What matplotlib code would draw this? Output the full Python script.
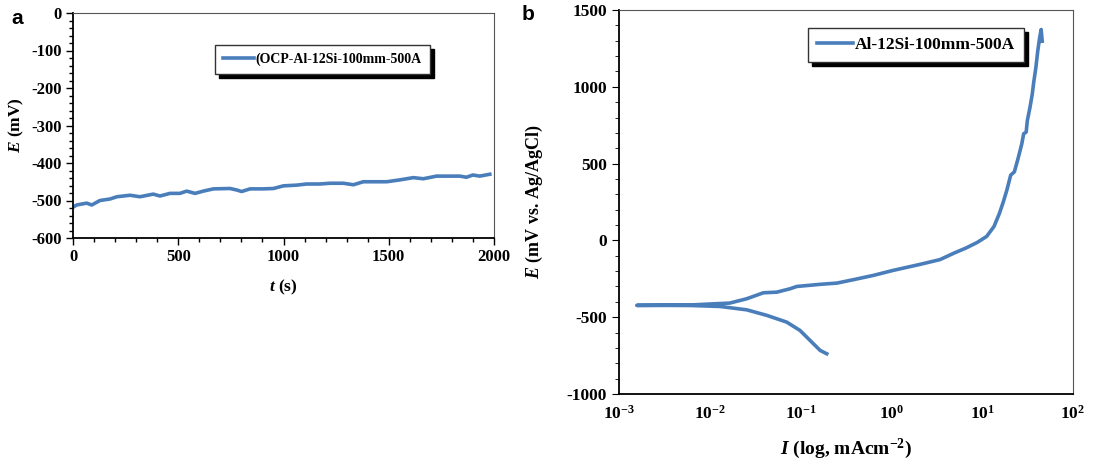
import numpy as np
import matplotlib
matplotlib.use("Agg")
from matplotlib import pyplot as plt
from matplotlib.ticker import MultipleLocator, LogLocator, NullLocator

plt.rcParams['font.family'] = ['Liberation Serif', 'DejaVu Serif']
plt.rcParams['font.weight'] = 'bold'
plt.rcParams['axes.labelweight'] = 'bold'
plt.rcParams['mathtext.fontset'] = 'custom'
plt.rcParams['mathtext.rm'] = 'Liberation Serif:bold'
plt.rcParams['mathtext.bf'] = 'Liberation Serif:bold'
plt.rcParams['mathtext.it'] = 'Liberation Serif:bold:italic'
plt.rcParams['axes.unicode_minus'] = False

# (a) open circuit potential vs time
ocp_t = [0, 17, 65, 89, 128, 176, 208, 271, 318, 381, 413, 461, 508, 540, 580,
         619, 667, 746, 778, 801, 841, 904, 952, 999, 1063, 1110, 1173, 1221,
         1284, 1332, 1379, 1443, 1490, 1553, 1617, 1664, 1727, 1790, 1838, 1869,
         1900, 1932, 1980]
ocp_E = [-518, -512, -507, -512, -500, -496, -490, -486, -490, -483, -488, -481,
         -481, -475, -481, -475, -469, -468, -472, -476, -469, -469, -468, -461,
         -459, -456, -456, -454, -454, -458, -450, -450, -450, -445, -439, -442,
         -435, -435, -435, -438, -432, -435, -430]

# (b) potentiodynamic polarization, cathodic end -> Ecorr -> anodic end
pol_I = [0.194, 0.164, 0.127, 0.0984, 0.0703, 0.0424, 0.0255, 0.0129, 0.0063,
         0.0032, 0.00157,
         0.0032, 0.0063, 0.0119, 0.0166, 0.0255, 0.0389, 0.0546, 0.0764, 0.0906,
         0.164, 0.251, 0.380, 0.631, 1.05, 2.07, 3.43, 5.01, 6.61, 8.83, 11.2,
         13.5, 15.5, 17.1, 18.7, 20.6, 22.6, 24.8, 27.3, 28.6, 30.5, 31.4, 33.6,
         35.6, 36.9, 39.0, 40.9, 42.9, 44.6, 45.8]
pol_E = [-738, -716, -651, -586, -532, -488, -452, -430, -424, -423, -423,
         -422, -420, -412, -408, -380, -341, -337, -315, -300,
         -286, -278, -256, -228, -195, -156, -125, -80, -50, -13, 26,
         91, 177, 252, 328, 425, 446, 532, 629, 694, 705, 780, 866,
         953, 1028, 1125, 1233, 1319, 1373, 1297]

blue = '#4a7ebb'

fig = plt.figure(figsize=(11.03, 4.67), dpi=100)
ax1 = fig.add_axes([73 / 1103, 1 - 238 / 467, 421 / 1103, 225 / 467])
ax2 = fig.add_axes([619 / 1103, 1 - 394 / 467, 454 / 1103, 384 / 467])

# --- panel a ---
ax1.plot(ocp_t, ocp_E, color=blue, lw=2.6, label='(OCP-Al-12Si-100mm-500A')
ax1.set_xlim(0, 2000)
ax1.set_ylim(-600, 0)
ax1.xaxis.set_major_locator(MultipleLocator(500))
ax1.xaxis.set_minor_locator(MultipleLocator(100))
ax1.yaxis.set_major_locator(MultipleLocator(100))
ax1.yaxis.set_minor_locator(MultipleLocator(20))
ax1.tick_params(which='both', direction='out', labelsize=12, width=1)
ax1.tick_params(which='major', length=5, pad=3)
ax1.tick_params(which='minor', length=3)
ax1.set_xlabel(r'$\mathit{t}$ (s)', fontsize=12.5)
ax1.set_ylabel(r'$\mathit{E}$ (mV)', fontsize=12.5)
ax1.xaxis.set_label_coords(0.5, -0.175)
ax1.yaxis.set_label_coords(-0.112, 0.5)
leg1 = ax1.legend(loc='upper left', bbox_to_anchor=(0.337, 0.858), fontsize=10,
                  fancybox=False, edgecolor='#333333', framealpha=1,
                  shadow={'color': 'black', 'alpha': 1, 'ox': 3, 'oy': -3},
                  handlelength=2.3, handletextpad=0.1, borderpad=0.55,
                  borderaxespad=0)
leg1.get_frame().set_linewidth(1.0)

# --- panel b ---
ax2.plot(pol_I, pol_E, color=blue, lw=2.6, label='Al-12Si-100mm-500A')
ax2.set_xscale('log')
ax2.set_xlim(1e-3, 1e2)
ax2.set_ylim(-1000, 1500)
ax2.xaxis.set_major_locator(LogLocator(base=10, numticks=10))
ax2.xaxis.set_minor_locator(NullLocator())
ax2.yaxis.set_major_locator(MultipleLocator(500))
ax2.yaxis.set_minor_locator(MultipleLocator(100))
ax2.tick_params(axis='x', length=0, pad=8, labelsize=12.5)
ax2.tick_params(axis='y', which='both', direction='out', labelsize=12.5)
ax2.tick_params(axis='y', which='major', length=5)
ax2.tick_params(axis='y', which='minor', length=3)
ax2.set_xlabel(r'$\mathit{I}$ (log, mAcm$^{-2}$)', fontsize=14)
ax2.set_ylabel(r'$\mathit{E}$ (mV vs. Ag/AgCl)', fontsize=13)
ax2.xaxis.set_label_coords(0.5, -0.112)
ax2.yaxis.set_label_coords(-0.163, 0.5)
leg2 = ax2.legend(loc='upper left', bbox_to_anchor=(0.416, 0.953), fontsize=12.5,
                  fancybox=False, edgecolor='#333333', framealpha=1,
                  shadow={'color': 'black', 'alpha': 1, 'ox': 3, 'oy': -3},
                  handlelength=2.1, handletextpad=0.1, borderpad=0.5,
                  borderaxespad=0)
leg2.get_frame().set_linewidth(1.0)

for ax in (ax1, ax2):
    for side in ('top', 'right'):
        ax.spines[side].set_color('#555555')
    for side in ('left', 'bottom'):
        ax.spines[side].set_color('black')
        ax.spines[side].set_linewidth(1.3)

fig.text(17.5 / 1103, 1 - 18 / 467, 'a', fontsize=15, fontweight='bold',
         family='Liberation Sans', va='center', ha='center')
fig.text(528 / 1103, 1 - 15 / 467, 'b', fontsize=15, fontweight='bold',
         family='Liberation Sans', va='center', ha='center')

fig.savefig('out.png', dpi=100)
